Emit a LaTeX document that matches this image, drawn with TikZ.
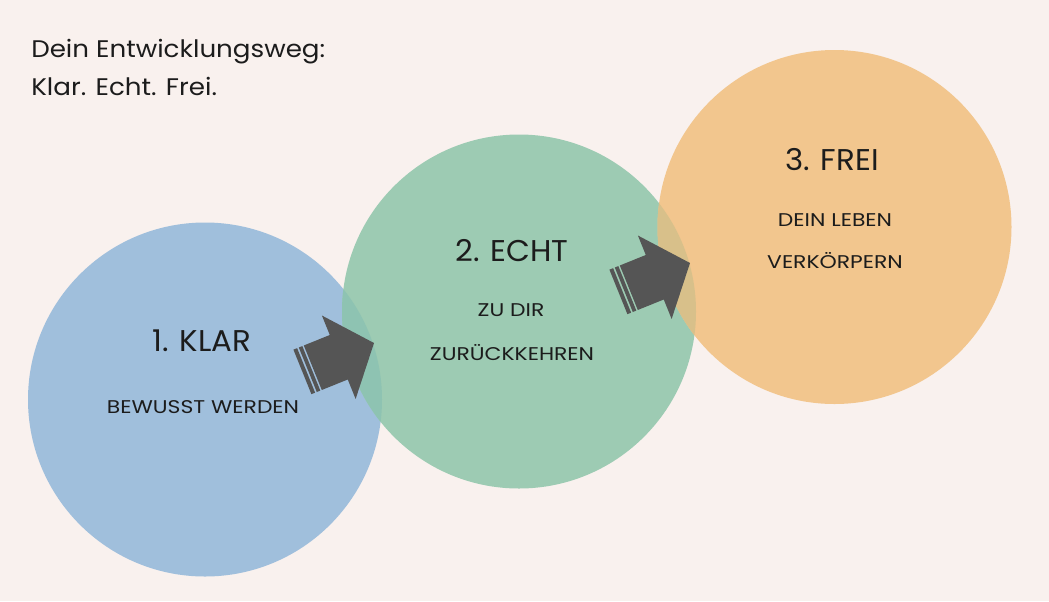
\documentclass[tikz,border=0pt]{standalone}
\usepackage{fontspec}
\setmainfont{Poppins}
\definecolor{bgc}{HTML}{F9F1EE}
\definecolor{bluec}{HTML}{A0BFDC}
\definecolor{greenc}{HTML}{9DCBB3}
\definecolor{orangec}{HTML}{F2C68E}
\definecolor{bgov}{HTML}{8EC3B2}
\definecolor{goov}{HTML}{D8C08A}
\definecolor{arrowc}{HTML}{555555}
\definecolor{txtc}{HTML}{1C1C1C}
\newcommand{\wideS}[1]{\scalebox{1.19}[1]{#1}}
\newcommand{\wideT}[1]{\scalebox{1.09}[1]{#1}}
\newcommand{\wideB}[1]{\scalebox{1.03}[1]{#1}}
\begin{document}
\begin{tikzpicture}[x=0.75pt,y=-0.75pt,
  disc/.style={circle,inner sep=0pt,minimum size=265.5pt},
  bigtxt/.style={text=txtc,font=\fontsize{22.5}{26}\selectfont,inner sep=0pt,anchor=base},
  smalltxt/.style={text=txtc,font=\fontsize{13.8}{16}\selectfont,inner sep=0pt,anchor=base},
  titletxt/.style={text=txtc,font=\fontsize{18}{22}\selectfont,inner sep=0pt,anchor=base west},
  arrowfill/.style={fill=arrowc,draw=none}]
\fill[bgc] (0,0) rectangle (1049,601);
\useasboundingbox (0,0) rectangle (1049,601);
% circles
\node[disc,fill=bluec] (klar) at (205,399.5) {};
\node[disc,fill=greenc] (echt) at (519,311.5) {};
\begin{scope}
  \clip (205,399.5) circle[radius=177];
  \fill[bgov] (519,311.5) circle[radius=177];
\end{scope}
\node[disc,fill=orangec] (frei) at (834.5,227) {};
\begin{scope}
  \clip (519,311.5) circle[radius=177];
  \fill[goov] (834.5,227) circle[radius=177];
\end{scope}
% arrows
\foreach \tx/\ty in {374/343, 690/263}{
\begin{scope}[shift={(\tx,\ty)},rotate=22]
  \fill[arrowfill] (0,0) -- (-38,45) -- (-38,24) -- (-66,24) -- (-66,-24) -- (-38,-24) -- (-38,-45) -- cycle;
  \fill[arrowfill] (-67.6,24) rectangle (-71.4,-24);
  \fill[arrowfill] (-73.2,24) rectangle (-77.2,-24);
\end{scope}}
% title
\node[titletxt] (t1) at (31,57) {\wideT{Dein Entwicklungsweg:}};
\node[titletxt] (t2) at (31,95) {\wideT{Klar. Echt. Frei.}};
% labels
\node[bigtxt] (k1) at (202,351.5) {\wideB{1. KLAR}};
\node[smalltxt] (k2) at (203,413.5) {\wideS{BEWUSST WERDEN}};
\node[bigtxt] (e1) at (512,261) {\wideB{2. ECHT}};
\node[smalltxt] (e2) at (511,316) {\wideS{ZU DIR}};
\node[smalltxt] (e3) at (512,360) {\wideS{ZURÜCKKEHREN}};
\node[bigtxt] (f1) at (832,170) {\wideB{3. FREI}};
\node[smalltxt] (f2) at (835,226) {\wideS{DEIN LEBEN}};
\node[smalltxt] (f3) at (835,268) {\wideS{VERKÖRPERN}};
\end{tikzpicture}
\end{document}
